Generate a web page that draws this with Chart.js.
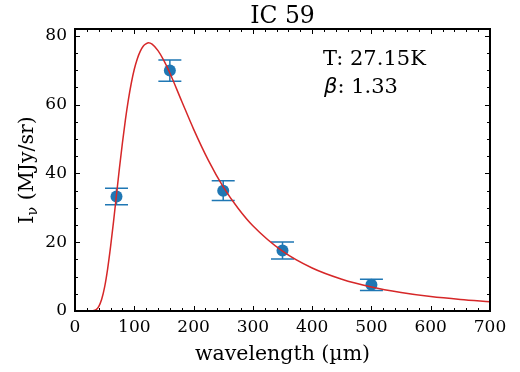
<!DOCTYPE html>
<html>
<head>
<meta charset="utf-8">
<script src="https://cdn.jsdelivr.net/npm/chart.js@4"></script>
<style>
html, body { margin: 0; padding: 0; background: #fff; }
#wrap { width: 520px; height: 372px; }
</style>
</head>
<body>
<div id="wrap"><canvas id="c"></canvas></div>
<script>
// fitted curve
const fitWl   = [30, 35, 40, 45, 50, 55, 60, 65, 70, 75, 80, 85, 90, 95, 100, 105, 110, 115, 120, 124, 130, 140, 150, 160, 180, 200, 225, 250, 275, 300, 350, 400, 450, 500, 550, 600, 650, 700];
const fitFlux = [0.05, 0.35, 1.3, 3.4, 7.0, 12.2, 18.7, 26.0, 33.8, 41.6, 48.9, 55.6, 61.4, 66.3, 70.3, 73.3, 75.5, 77.0, 77.7, 78.0, 77.6, 75.7, 72.8, 69.2, 61.0, 52.9, 43.8, 36.1, 29.9, 24.8, 17.4, 12.5, 9.25, 7.0, 5.4, 4.2, 3.35, 2.7];

// measured points
const obsWl   = [70, 160, 250, 350, 500];
const obsFlux = [33.3, 69.9, 35.0, 17.6, 7.6];
const obsErr  = [2.4, 3.1, 2.9, 2.45, 1.65];

const xTicks = [0, 100, 200, 300, 400, 500, 600, 700];
const yTicks = [0, 20, 40, 60, 80];

const title = 'IC 59';
const tempText = 'T: 27.15K';
const betaText = ': 1.33';

const SERIF = '"DejaVu Serif", serif';

const decorations = {
  id: 'decorations',
  beforeDatasetsDraw(chart) {
    const ctx = chart.ctx;
    const x = chart.scales.x, y = chart.scales.y;
    ctx.save();
    ctx.strokeStyle = '#1f77b4';
    ctx.lineWidth = 1.5;
    obsWl.forEach((wl, i) => {
      const px = x.getPixelForValue(wl);
      const top = y.getPixelForValue(obsFlux[i] + obsErr[i]);
      const bot = y.getPixelForValue(obsFlux[i] - obsErr[i]);
      ctx.beginPath();
      ctx.moveTo(px, top); ctx.lineTo(px, bot);
      ctx.moveTo(px - 11.5, top); ctx.lineTo(px + 11.5, top);
      ctx.moveTo(px - 11.5, bot); ctx.lineTo(px + 11.5, bot);
      ctx.stroke();
    });
    ctx.restore();
  },
  afterDraw(chart) {
    const ctx = chart.ctx;
    const a = chart.chartArea;
    const x = chart.scales.x, y = chart.scales.y;
    ctx.save();
    ctx.strokeStyle = '#000';

    // inward ticks on all four sides
    ctx.lineWidth = 1;
    ctx.beginPath();
    for (let v = 0; v <= 700; v += 20) {
      const px = Math.round(x.getPixelForValue(v)) + 0.5;
      const len = v % 100 === 0 ? 5 : 3;
      ctx.moveTo(px, a.bottom); ctx.lineTo(px, a.bottom - len);
      ctx.moveTo(px, a.top); ctx.lineTo(px, a.top + len);
    }
    for (let v = 0; v <= 80; v += 5) {
      const py = Math.round(y.getPixelForValue(v)) + 0.5;
      const len = v % 20 === 0 ? 5 : 3;
      ctx.moveTo(a.left, py); ctx.lineTo(a.left + len, py);
      ctx.moveTo(a.right, py); ctx.lineTo(a.right - len, py);
    }
    ctx.stroke();

    ctx.lineWidth = 2;
    ctx.strokeRect(a.left, a.top, a.right - a.left, a.bottom - a.top);

    ctx.fillStyle = '#000';
    // title
    ctx.font = '23.5px ' + SERIF;
    ctx.textAlign = 'center';
    ctx.textBaseline = 'alphabetic';
    ctx.fillText(title, (a.left + a.right) / 2, 23);

    // x axis label
    ctx.font = '20.5px ' + SERIF;
    ctx.fillText('wavelength (\u00b5m)', (a.left + a.right) / 2, 360);

    // y axis label, I with subscript nu
    ctx.save();
    ctx.translate(33, (a.top + a.bottom) / 2);
    ctx.rotate(-Math.PI / 2);
    ctx.textAlign = 'left';
    const f1 = '20.5px ' + SERIF, f2 = '14.5px ' + SERIF;
    ctx.font = f1; const wI = ctx.measureText('I').width;
    const rest = ' (MJy/sr)';
    const wR = ctx.measureText(rest).width;
    ctx.font = f2; const wNu = ctx.measureText('\u03bd').width;
    let sx = -(wI + wNu + wR) / 2;
    ctx.font = f1; ctx.fillText('I', sx, 0); sx += wI;
    ctx.font = f2; ctx.fillText('\u03bd', sx, 4); sx += wNu;
    ctx.font = f1; ctx.fillText(rest, sx, 0);
    ctx.restore();

    // fit parameters
    ctx.textAlign = 'left';
    ctx.font = '21px ' + SERIF;
    ctx.fillText(tempText, 323, 65);
    ctx.font = 'italic 21px "DejaVu Sans", sans-serif';
    ctx.fillText('\u03b2', 324, 93);
    const wb = ctx.measureText('\u03b2').width;
    ctx.font = '21px ' + SERIF;
    ctx.fillText(betaText, 324 + wb, 93);
    ctx.restore();
  }
};

new Chart(document.getElementById('c'), {
  type: 'scatter',
  data: {
    datasets: [
      {
        label: 'fit',
        data: fitWl.map((w, i) => ({ x: w, y: fitFlux[i] })),
        showLine: true,
        borderColor: '#d62728',
        borderWidth: 1.5,
        pointRadius: 0,
        cubicInterpolationMode: 'monotone',
        fill: false
      },
      {
        label: 'data',
        data: obsWl.map((w, i) => ({ x: w, y: obsFlux[i] })),
        backgroundColor: '#1f77b4',
        borderColor: '#1f77b4',
        pointRadius: 6,
        borderWidth: 0
      }
    ]
  },
  options: {
    responsive: true,
    maintainAspectRatio: false,
    animation: false,
    layout: { padding: { left: 0, top: 29, right: 30, bottom: 0 } },
    plugins: { legend: { display: false }, tooltip: { enabled: false }, title: { display: false } },
    scales: {
      x: {
        type: 'linear', min: 0, max: 700,
        afterFit: s => { s.height = 61; },
        afterBuildTicks: s => { s.ticks = xTicks.map(v => ({ value: v })); },
        grid: { display: false, drawTicks: false },
        border: { display: false },
        ticks: { padding: 6, color: '#000', font: { family: 'DejaVu Serif', size: 17 }, maxRotation: 0 }
      },
      y: {
        type: 'linear', min: 0, max: 82,
        afterFit: s => { s.width = 75; },
        afterBuildTicks: s => { s.ticks = yTicks.map(v => ({ value: v })); },
        grid: { display: false, drawTicks: false },
        border: { display: false },
        ticks: { padding: 8, color: '#000', font: { family: 'DejaVu Serif', size: 17 } }
      }
    }
  },
  plugins: [decorations]
});
</script>
</body>
</html>
